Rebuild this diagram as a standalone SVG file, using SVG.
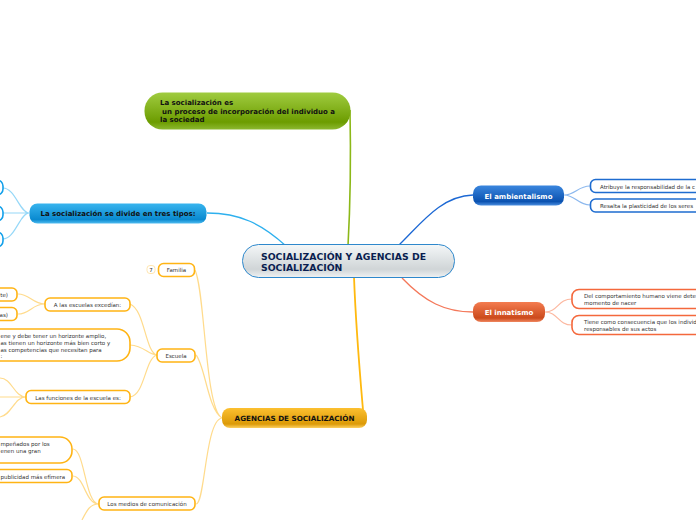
<svg xmlns="http://www.w3.org/2000/svg" width="696" height="520" viewBox="0 0 696 520">
<defs>
<linearGradient id="gc" x1="0" y1="0" x2="0" y2="1"><stop offset="0" stop-color="#f4f7f8"/><stop offset=".75" stop-color="#d0d5d7"/><stop offset="1" stop-color="#f0f2f3"/></linearGradient>
<linearGradient id="gg" x1="0" y1="0" x2="0" y2="1"><stop offset="0" stop-color="#a0cc40"/><stop offset=".8" stop-color="#6c9c00"/><stop offset="1" stop-color="#8cb830"/></linearGradient>
<linearGradient id="gb" x1="0" y1="0" x2="0" y2="1"><stop offset="0" stop-color="#38b4ee"/><stop offset=".8" stop-color="#0a8ad0"/><stop offset="1" stop-color="#50bcf0"/></linearGradient>
<linearGradient id="gd" x1="0" y1="0" x2="0" y2="1"><stop offset="0" stop-color="#3a86de"/><stop offset=".8" stop-color="#0b52b0"/><stop offset="1" stop-color="#4a8ee0"/></linearGradient>
<linearGradient id="gr" x1="0" y1="0" x2="0" y2="1"><stop offset="0" stop-color="#f47c50"/><stop offset=".8" stop-color="#cc4a1c"/><stop offset="1" stop-color="#f08860"/></linearGradient>
<linearGradient id="gy" x1="0" y1="0" x2="0" y2="1"><stop offset="0" stop-color="#fcc030"/><stop offset=".8" stop-color="#dc9a08"/><stop offset="1" stop-color="#fdd060"/></linearGradient>
</defs>
<style>
text{font-family:"DejaVu Sans",sans-serif}
.c{fill:none}
.y{stroke:#ffdb8c;stroke-width:1.2}.b{stroke:#96d8f8;stroke-width:1.2}.d{stroke:#8cb8ee;stroke-width:1.2}.r{stroke:#fcb8a0;stroke-width:1.2}
.s{fill:#fff;stroke-width:1.6}
.sy{stroke:#ffb414}.sd{stroke:#1e6cd0}.sr{stroke:#f4683c}.sb{stroke:#12a0ea}
.t{font-size:5.5px;fill:#333}
.m{font-size:7px;font-weight:bold;fill:#111}
</style>
<rect width="696" height="520" fill="#fff"/>
<g id="connectors">
<path class="c" d="M350 110C351 160 350 210 348 246" stroke="#8cb818" stroke-width="1.6"/>
<path class="c" d="M207 213C240 213 262 224 286 246" stroke="#2eb0ee" stroke-width="1.3"/>
<path class="c" d="M354 277C356 330 360 375 363 410" stroke="#ffb90f" stroke-width="1.8"/>
<path class="c" d="M398 246C420 225 440 196 473 195" stroke="#1c68d4" stroke-width="1.3"/>
<path class="c" d="M402 278C425 302 445 312 473 312" stroke="#f4785a" stroke-width="1.3"/>
<path class="c b" d="M29 213C20 213 15 188 3 188M29 213H3M29 213C20 213 15 239 3 239"/>
<path class="c d" d="M564 195C575 195 578 186 590 186M564 195C575 195 578 205 590 205"/>
<path class="c r" d="M545 312C558 312 558 299 572 299M545 312C558 312 558 325 572 325"/>
<path class="c y" d="M222 418C205 410 205 290 195 270M222 418C208 410 205 365 196 355M222 418C205 420 205 505 196 504"/>
<path class="c y" d="M157 355C145 352 145 310 130 304M157 355C148 355 145 346 130 345M157 355C145 358 145 395 130 397"/>
<path class="c y" d="M45 304C32 304 30 294 18 294M45 304C32 304 30 314 18 314"/>
<path class="c y" d="M26 397C14 397 12 378 0 378M26 397H0M26 397C14 397 12 415 0 417"/>
<path class="c y" d="M99 504C85 504 85 450 73 449M99 504C85 504 85 477 73 476M99 504C90 504 87 510 82 520"/>
</g>
<g id="center"><rect x="242.500" y="244.500" width="212" height="33" rx="16" fill="url(#gc)" stroke="#2e88cc"/>
<text x="261" y="259.500" font-size="9.300" font-weight="bold" fill="#0a1e50">SOCIALIZACIÓN Y AGENCIAS DE</text><text x="261" y="270.500" font-size="9.300" font-weight="bold" fill="#0a1e50">SOCIALIZACIÓN</text></g>
<g id="n-proceso"><rect x="144.500" y="92.500" width="206" height="37" rx="18" fill="url(#gg)"/>
<text class="m" x="160" y="105">La socialización es</text><text class="m" x="162" y="113.500">un proceso de incorporación del individuo a</text><text class="m" x="160" y="122">la sociedad</text></g>
<g id="n-tipos"><rect x="29.500" y="203.500" width="177" height="20" rx="8" fill="url(#gb)"/><text class="m" x="118" y="216" text-anchor="middle">La socialización se divide en tres tipos:</text></g>
<g id="n-t1"><rect class="s sb" x="-30" y="180" width="33" height="15" rx="6"/></g>
<g id="n-t2"><rect class="s sb" x="-30" y="206" width="33" height="15" rx="6"/></g>
<g id="n-t3"><rect class="s sb" x="-30" y="232" width="33" height="15" rx="6"/></g>
<g id="n-amb"><rect x="473" y="185.500" width="91" height="20" rx="8" fill="url(#gd)"/><text x="518.500" y="198.500" font-size="7" font-weight="bold" fill="#fff" text-anchor="middle">El ambientalismo</text></g>
<g id="n-amb1"><rect class="s sd" x="590.500" y="179.500" width="130" height="13" rx="5"/><text class="t" x="600" y="188.500">Atribuye la responsabilidad de la c</text></g>
<g id="n-amb2"><rect class="s sd" x="590.500" y="199" width="130" height="13" rx="5"/><text class="t" x="600" y="208">Resalta la plasticidad de los seres</text></g>
<g id="n-inn"><rect x="473" y="302" width="72" height="20" rx="8" fill="url(#gr)"/><text x="509" y="315" font-size="7" font-weight="bold" fill="#fff" text-anchor="middle">El innatismo</text></g>
<g id="n-inn1"><rect class="s sr" x="572" y="289.500" width="150" height="19" rx="7"/><text class="t" x="584" y="298">Del comportamiento humano viene dete</text><text class="t" x="584" y="305">momento de nacer</text></g>
<g id="n-inn2"><rect class="s sr" x="572" y="315.500" width="150" height="19" rx="7"/><text class="t" x="584" y="324">Tiene como consecuencia que los individ</text><text class="t" x="584" y="331">responsables de sus actos</text></g>
<g id="n-agencias"><rect x="222" y="408" width="145" height="20" rx="8" fill="url(#gy)"/><text x="294.500" y="421" font-size="7.200" font-weight="bold" fill="#111" text-anchor="middle">AGENCIAS DE SOCIALIZACIÓN</text></g>
<g id="n-familia"><rect x="147" y="265.500" width="8" height="8" rx="3" fill="#fff" stroke="#ffe6b0"/><text class="t" x="151" y="271.500" text-anchor="middle">7</text><rect class="s sy" x="158.500" y="263.500" width="36" height="13" rx="5"/><text class="t" x="176.500" y="272" text-anchor="middle">Familia</text></g>
<g id="n-escuela"><rect class="s sy" x="157" y="349" width="38" height="13" rx="5"/><text class="t" x="176" y="358" text-anchor="middle">Escuela</text></g>
<g id="n-excedian"><rect class="s sy" x="45" y="298" width="85" height="13" rx="5"/><text class="t" x="87.500" y="307" text-anchor="middle">A las escuelas excedían:</text></g>
<g id="n-e1"><rect class="s sy" x="-40" y="288" width="57" height="13" rx="5"/><text class="t" x="8" y="297" text-anchor="end">te)</text></g>
<g id="n-e2"><rect class="s sy" x="-40" y="307.500" width="57" height="13" rx="5"/><text class="t" x="8" y="316.500" text-anchor="end">as)</text></g>
<g id="n-horizonte"><rect class="s sy" x="-60" y="329" width="190" height="32" rx="13"/><text class="t"><tspan x="0.500" y="338">ene y debe tener un horizonte amplio,</tspan><tspan x="0.500" y="345">as tienen un horizonte más bien corto y</tspan><tspan x="0.500" y="351.500">as competencias que necesitan para</tspan><tspan x="0.500" y="358">:</tspan></text></g>
<g id="n-funciones"><rect class="s sy" x="26" y="390.500" width="104" height="13" rx="5"/><text class="t" x="78" y="399.500" text-anchor="middle">Las funciones de la escuela es:</text></g>
<g id="n-medios"><rect class="s sy" x="99" y="497" width="96" height="13" rx="5"/><text class="t" x="147" y="506" text-anchor="middle">Los medios de comunicación</text></g>
<g id="n-m1"><rect class="s sy" x="-80" y="437" width="152" height="26" rx="12"/><text class="t"><tspan x="0.500" y="446">mpeñados por los</tspan><tspan x="0.500" y="452.500">enen una gran</tspan></text></g>
<g id="n-m2"><rect class="s sy" x="-80" y="469.500" width="152" height="13" rx="5"/><text class="t" x="0.500" y="478.500">publicidad más efímera</text></g>
</svg>
